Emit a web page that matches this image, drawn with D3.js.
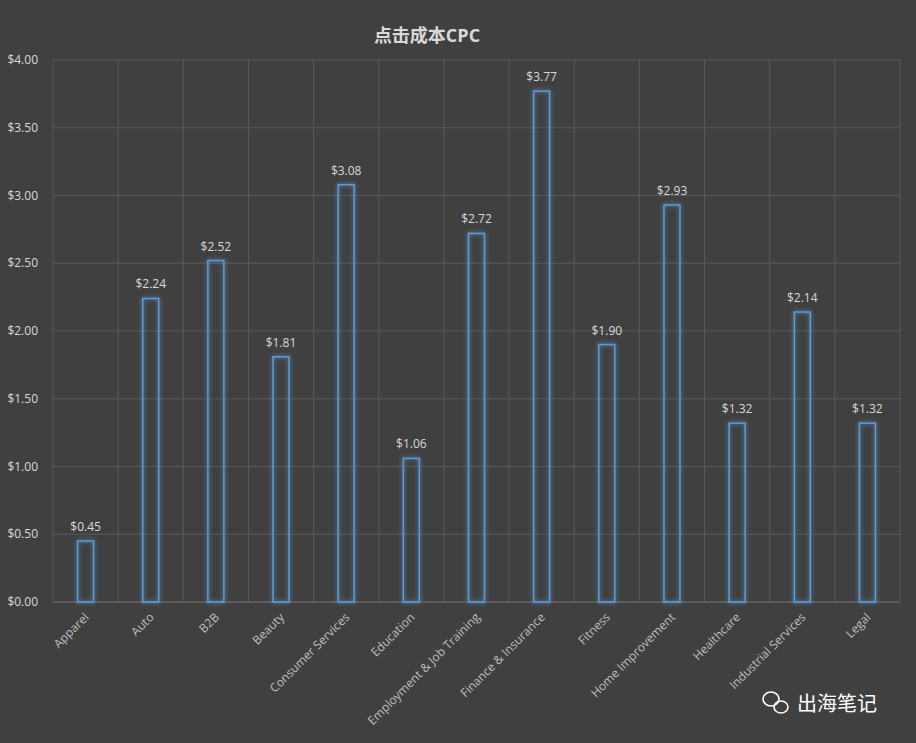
<!DOCTYPE html>
<html><head><meta charset="utf-8">
<script src="https://cdn.jsdelivr.net/npm/d3@7"></script>
<style>body{margin:0;background:#404040;}svg{display:block;}</style>
</head><body><svg id="c" width="916" height="743"></svg>
<script>
const categories=["Apparel","Auto","B2B","Beauty","Consumer Services","Education","Employment & Job Training","Finance & Insurance","Fitness","Home Improvement","Healthcare","Industrial Services","Legal"];
const values=[0.45,2.24,2.52,1.81,3.08,1.06,2.72,3.77,1.90,2.93,1.32,2.14,1.32];
const yTicks=[0,0.5,1,1.5,2,2.5,3,3.5,4];
const svg=d3.select("#c");
const W=916,H=743,m={l:53,r:16,t:60,b:141};
svg.append("rect").attr("width",W).attr("height",H).attr("fill","#404040");
const defs=svg.append("defs");
const f=defs.append("filter").attr("id","glow").attr("x","-50%").attr("y","-10%").attr("width","200%").attr("height","120%");
f.append("feGaussianBlur").attr("stdDeviation",2).attr("result","b");
const fm=f.append("feMerge");fm.append("feMergeNode").attr("in","b");fm.append("feMergeNode").attr("in","SourceGraphic");
const x=d3.scaleBand().domain(categories).range([m.l,W-m.r]);
const y=d3.scaleLinear().domain([0,4]).range([H-m.b,m.t]);
const g=svg.append("g");
yTicks.forEach(t=>g.append("line").attr("x1",m.l).attr("x2",W-m.r).attr("y1",y(t)).attr("y2",y(t)).attr("stroke","#595959"));
categories.concat([null]).forEach((c,i)=>{const xx=c?x(c):W-m.r;g.append("line").attr("x1",xx).attr("x2",xx).attr("y1",m.t).attr("y2",H-m.b).attr("stroke","#595959");});
g.append("line").attr("x1",m.l).attr("x2",W-m.r).attr("y1",y(0)).attr("y2",y(0)).attr("stroke","#6a6a6a");
const font="'Open Sans','Noto Sans CJK SC',sans-serif";
yTicks.forEach(t=>g.append("text").attr("x",38).attr("y",y(t)+4).attr("text-anchor","end").attr("font-family",font).attr("font-size",12).attr("fill","#d9d9d9").text("$"+t.toFixed(2)));
const bw=16;
categories.forEach((c,i)=>{
 const cx=x(c)+x.bandwidth()/2;
 g.append("rect").attr("x",cx-bw/2).attr("y",y(values[i])).attr("width",bw).attr("height",y(0)-y(values[i])).attr("fill","none").attr("stroke","#5b9bd5").attr("stroke-width",1.5).attr("filter","url(#glow)");
 g.append("text").attr("x",cx).attr("y",y(values[i])-10).attr("text-anchor","middle").attr("font-family",font).attr("font-size",12).attr("fill","#d9d9d9").text("$"+values[i].toFixed(2));
 g.append("text").attr("transform",`translate(${cx+4},${y(0)+16}) rotate(-45)`).attr("text-anchor","end").attr("font-family",font).attr("font-size",12).attr("fill","#bfbfbf").text(c);
});
svg.append("text").attr("x",427).attr("y",42).attr("text-anchor","middle").attr("font-family",font).attr("font-size",18).attr("font-weight","bold").attr("fill","#d9d9d9").text("点击成本CPC");
const wm=svg.append("g").attr("transform","translate(775,703)");
wm.append("ellipse").attr("cx",-4).attr("cy",-4).attr("rx",8).attr("ry",7).attr("fill","none").attr("stroke","#fff").attr("stroke-width",1.6);
wm.append("ellipse").attr("cx",6).attr("cy",4).attr("rx",7).attr("ry",6).attr("fill","none").attr("stroke","#fff").attr("stroke-width",1.6);
wm.append("text").attr("x",22).attr("y",8).attr("font-family","'Noto Sans CJK SC',sans-serif").attr("font-size",20).attr("fill","#fff").text("出海笔记");
</script></body></html>
